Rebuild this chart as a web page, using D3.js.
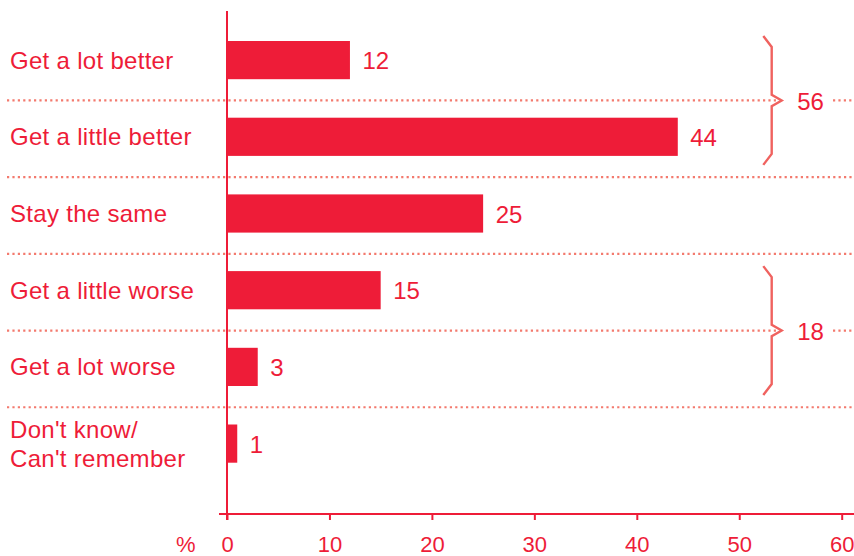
<!DOCTYPE html>
<html>
<head>
<meta charset="utf-8">
<script src="https://cdn.jsdelivr.net/npm/d3@7/dist/d3.min.js"></script>
<style>
  html, body { margin: 0; padding: 0; background: #ffffff; }
  svg { display: block; }
  text { font-family: "Liberation Sans", Arial, Helvetica, sans-serif; }
</style>
</head>
<body>
<script>
// Survey answers and their shares (%)
const categories = [
  ["Get a lot better"],
  ["Get a little better"],
  ["Stay the same"],
  ["Get a little worse"],
  ["Get a lot worse"],
  ["Don't know/", "Can't remember"]
];
const values = [12, 44, 25, 15, 3, 1];
const xTicks = [0, 10, 20, 30, 40, 50, 60];
const unitLabel = "%";
// Bracketed groups: indices of the answers they combine
const groups = [[0, 1], [3, 4]];

const W = 854, H = 556;
const RED = "#ee1c38";
const DOT = "#f37a6e";
const BRACE = "#f0625f";
const FONT = 24;

const svg = d3.select("body").append("svg")
  .attr("width", W).attr("height", H);

const keys = categories.map((c, i) => i);

const x = d3.scaleLinear().domain([0, 60]).range([227, 841.7]);

const y = d3.scaleBand()
  .domain(keys)
  .range([21.75, 481.95])
  .paddingInner(0.502)
  .paddingOuter(0.251);

const step = y.step();
const bw = y.bandwidth();
const mid = i => y(i) + bw / 2;
const below = i => mid(i) + step / 2 + 2;

// Dotted separators between answers; split where a group total sits
const groupTipRows = new Set(groups.map(g => g[0]));
const braceX = 771.7;
const sepLayer = svg.append("g")
  .attr("stroke", DOT)
  .attr("stroke-width", 2.2)
  .attr("stroke-dasharray", "2.2 3.2")
  .attr("fill", "none");

keys.slice(0, -1).forEach(i => {
  const yy = below(i);
  if (groupTipRows.has(i)) {
    sepLayer.append("line").attr("x1", 7).attr("x2", braceX + 6).attr("y1", yy).attr("y2", yy);
    sepLayer.append("line").attr("x1", 833).attr("x2", W).attr("y1", yy).attr("y2", yy);
  } else {
    sepLayer.append("line").attr("x1", 7).attr("x2", W).attr("y1", yy).attr("y2", yy);
  }
});

// Bars
svg.append("g").selectAll("rect")
  .data(values)
  .join("rect")
  .attr("x", x(0))
  .attr("y", (d, i) => y(i))
  .attr("width", d => x(d) - x(0))
  .attr("height", bw)
  .attr("fill", RED);

// Value labels
svg.append("g").selectAll("text")
  .data(values)
  .join("text")
  .attr("x", d => x(d) + 12.5)
  .attr("y", (d, i) => mid(i) + FONT * 0.38)
  .attr("fill", RED)
  .attr("font-size", FONT)
  .text(d => d);

// Category labels
const catG = svg.append("g");
categories.forEach((lines, i) => {
  const lh = 29;
  const base = mid(i) + FONT * 0.358 - (lines.length - 1) * lh / 2;
  const t = catG.append("text")
    .attr("x", 10)
    .attr("fill", RED)
    .attr("font-size", FONT)
    .attr("letter-spacing", 0.3);
  lines.forEach((ln, k) => {
    t.append("tspan").attr("x", 10).attr("y", base + k * lh).text(ln);
  });
});

// Group braces with combined totals
groups.forEach(g => {
  const tip = below(g[0]);
  const half = step * 0.84;
  const top = tip - half, bot = tip + half;
  const p = d3.path();
  p.moveTo(braceX - 8.4, top);
  p.lineTo(braceX, top + 11);
  p.lineTo(braceX, tip - 5.7);
  p.lineTo(braceX + 10, tip);
  p.lineTo(braceX, tip + 5.7);
  p.lineTo(braceX, bot - 11);
  p.lineTo(braceX - 8.4, bot);
  svg.append("path")
    .attr("d", p.toString())
    .attr("fill", "none")
    .attr("stroke", BRACE)
    .attr("stroke-width", 2.4)
    .attr("stroke-linejoin", "miter");
  svg.append("text")
    .attr("x", 810.5)
    .attr("y", tip + FONT * 0.38)
    .attr("text-anchor", "middle")
    .attr("fill", RED)
    .attr("font-size", FONT)
    .text(d3.sum(g, i => values[i]));
});

// X axis
const axisY = 514;
const xAxis = d3.axisBottom(x).tickValues(xTicks).tickSize(6).tickSizeOuter(0).tickPadding(16);
const ax = svg.append("g").attr("transform", `translate(0,${axisY})`).call(xAxis);
ax.select(".domain").remove();
ax.selectAll(".tick line").attr("stroke", RED).attr("stroke-width", 2);
ax.selectAll(".tick text")
  .attr("fill", RED)
  .attr("font-size", 22)
  .attr("font-family", "Liberation Sans, Arial, sans-serif");
svg.append("line")
  .attr("x1", 219).attr("x2", W)
  .attr("y1", axisY).attr("y2", axisY)
  .attr("stroke", RED).attr("stroke-width", 2);

svg.append("text")
  .attr("x", 185.7)
  .attr("y", 551.7)
  .attr("text-anchor", "middle")
  .attr("fill", RED)
  .attr("font-size", 22)
  .text(unitLabel);

// Y axis line
svg.append("line")
  .attr("x1", x(0)).attr("x2", x(0))
  .attr("y1", 11).attr("y2", axisY + 6)
  .attr("stroke", RED).attr("stroke-width", 2);
</script>
</body>
</html>
